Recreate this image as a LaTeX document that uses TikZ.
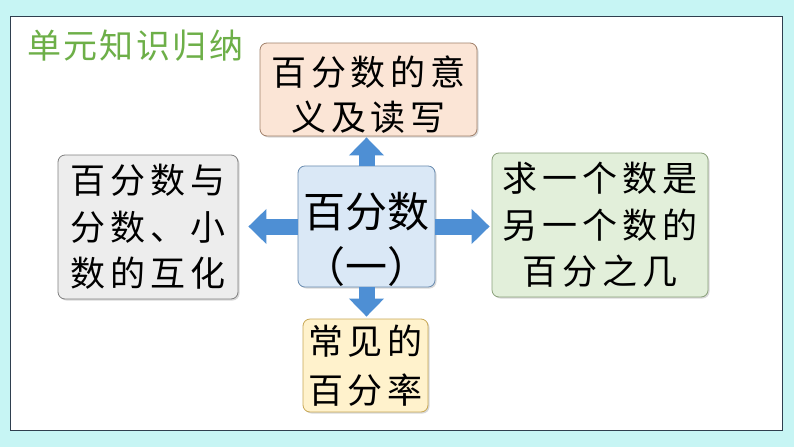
\documentclass[tikz,border=0pt]{standalone}
\usepackage{fontspec}
\newfontfamily\cjk{Noto Sans CJK SC}
\newfontfamily\cjksp[LetterSpace=14]{Noto Sans CJK SC}
\newfontfamily\cjktitle[LetterSpace=7]{Noto Sans CJK SC}
\usetikzlibrary{arrows.meta,shadows}
\definecolor{bgcyan}{HTML}{C7F5F4}
\definecolor{panelline}{HTML}{2F3F4F}
\definecolor{topfill}{HTML}{FBE5D6}
\definecolor{topdraw}{HTML}{A0806A}
\definecolor{leftfill}{HTML}{EDEDED}
\definecolor{leftdraw}{HTML}{808080}
\definecolor{cenfill}{HTML}{DAE8F6}
\definecolor{cendraw}{HTML}{6A8CB0}
\definecolor{rightfill}{HTML}{E2EFDA}
\definecolor{rightdraw}{HTML}{8AA07A}
\definecolor{botfill}{HTML}{FFF2CC}
\definecolor{botdraw}{HTML}{C8A855}
\definecolor{arrowblue}{HTML}{4E8FD4}
\definecolor{titlegreen}{HTML}{6DAF48}
\tikzset{
  box/.style={rounded corners=7pt, line width=0.8pt, inner sep=0pt, align=center,
    font=\cjksp\fontsize{35}{46.5}\selectfont,
    drop shadow={shadow xshift=1.5pt, shadow yshift=-1.5pt, opacity=0.3, fill=gray}},
  blockarrow/.style={draw=arrowblue, line width=16pt,
    -{Triangle[width=34pt,length=18pt]}}
}
\begin{document}
\begin{tikzpicture}[x=1pt,y=-1pt]
\useasboundingbox (0,0) rectangle (794,447);
\fill[bgcyan] (0,0) rectangle (794,447);
\draw[panelline, fill=white, line width=0.8pt] (10,16) rectangle (782,430);
\node[anchor=west, inner sep=0pt, text=titlegreen, font=\cjktitle\fontsize{34}{40}\selectfont] (title) at (27,46) {单元知识归纳};
\node[box, fill=topfill, draw=topdraw, minimum width=217pt, minimum height=93pt, font=\cjksp\fontsize{35}{45}\selectfont] (t) at (368.5,89.5) {\rule{0pt}{40pt}百分数的意\\义及读写};
\node[box, fill=leftfill, draw=leftdraw, minimum width=180pt, minimum height=144pt] (l) at (148,227) {百分数与\\分数、小\\数的互化};
\node[box, fill=rightfill, draw=rightdraw, minimum width=216pt, minimum height=144pt] (r) at (600,225) {求一个数是\\另一个数的\\百分之几};
\node[box, fill=botfill, draw=botdraw, minimum width=125pt, minimum height=93pt, font=\cjksp\fontsize{35}{49}\selectfont] (b) at (365.5,365.5) {常见的\\百分率};
\node[box, fill=cenfill, draw=cendraw, minimum width=137pt, minimum height=117pt, font=\cjk\fontsize{42}{55}\selectfont] (c) at (366.5,226.5) {\rule{0pt}{62pt}百分数\\（一）};
\draw[blockarrow, shorten >=1pt] (c.north) -- (c.north |- t.south);
\draw[blockarrow, shorten >=2pt] (c.south) -- (c.south |- b.north);
\draw[blockarrow, shorten >=10pt] (c.west) -- (c.west -| l.east);
\draw[blockarrow, shorten >=2pt] (c.east) -- (c.east -| r.west);
\end{tikzpicture}
\end{document}
